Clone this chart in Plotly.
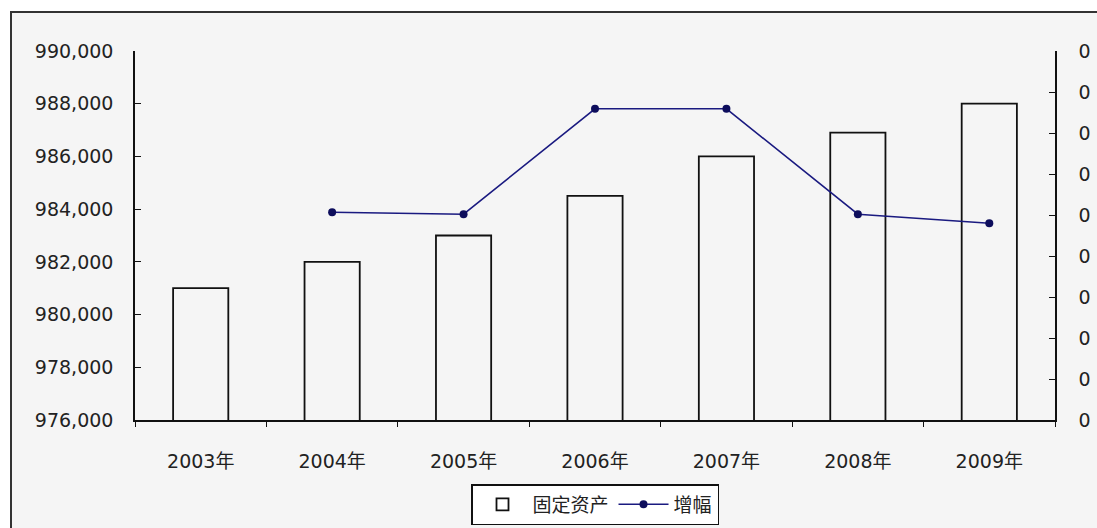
import plotly.graph_objects as go

years = ["2003年", "2004年", "2005年", "2006年", "2007年", "2008年", "2009年"]
fixed_assets = [981000, 982000, 983000, 984500, 986000, 986900, 988000]
growth_years = ["2004年", "2005年", "2006年", "2007年", "2008年", "2009年"]
growth = [0.00507, 0.00502, 0.00759, 0.00759, 0.00502, 0.00480]

W, H = 1097, 528
L, R, T, B = 135, 42, 51, 108

font = dict(family="DejaVu Sans, Noto Sans CJK SC, sans-serif", size=19, color="#222222")

fig = go.Figure()
fig.add_trace(go.Bar(
    x=years, y=fixed_assets, name="固定资产",
    width=0.42,
    marker=dict(color="rgba(0,0,0,0)", line=dict(color="#111111", width=1.8)),
    yaxis="y",
))
fig.add_trace(go.Scatter(
    x=growth_years, y=growth, name="增幅", mode="lines+markers",
    line=dict(color="#1a1a80", width=1.5),
    marker=dict(color="#0d0d5c", size=8, symbol="circle"),
    yaxis="y2",
))

fig.update_layout(
    width=W, height=H,
    margin=dict(l=L, r=R, t=T, b=B, pad=0, autoexpand=False),
    paper_bgcolor="white",
    plot_bgcolor="rgba(0,0,0,0)",
    font=font,
    showlegend=True,
    legend=dict(
        orientation="h", x=0.5, xanchor="center", y=-0.2846, yanchor="bottom",
        bgcolor="white", bordercolor="#111111", borderwidth=1.5,
        font=dict(family="Noto Sans CJK SC, sans-serif", size=19, color="#222222"),
        itemwidth=50, tracegroupgap=0,
    ),
    xaxis=dict(
        type="category", showline=True, linecolor="#111111", linewidth=1.5,
        ticks="outside", ticklen=5, tickcolor="#111111", tickson="boundaries",
        showgrid=False, ticklabelstandoff=23, zeroline=False, automargin=False,
    ),
    yaxis=dict(
        range=[976000, 990000], dtick=2000, tickformat=",",
        showline=True, linecolor="#111111", linewidth=1.5,
        ticks="inside", ticklen=6, tickcolor="#111111",
        showgrid=False, zeroline=False, ticklabelstandoff=16, automargin=False,
    ),
    yaxis2=dict(
        range=[0, 0.009], dtick=0.001, tickformat=".0f",
        overlaying="y", side="right",
        showline=True, linecolor="#111111", linewidth=1.5,
        ticks="inside", ticklen=6, tickcolor="#111111",
        showgrid=False, zeroline=False, ticklabelstandoff=18, automargin=False,
    ),
    shapes=[dict(
        type="rect", xref="paper", yref="paper",
        x0=(11 - L) / (W - L - R), x1=(W + 20 - L) / (W - L - R),
        y0=-(H + 20 - (H - B)) / (H - T - B), y1=1 + (T - 12) / (H - T - B),
        line=dict(color="#333333", width=2), fillcolor="#f5f5f5", layer="below",
    )],
)

fig.write_html("out.html")
